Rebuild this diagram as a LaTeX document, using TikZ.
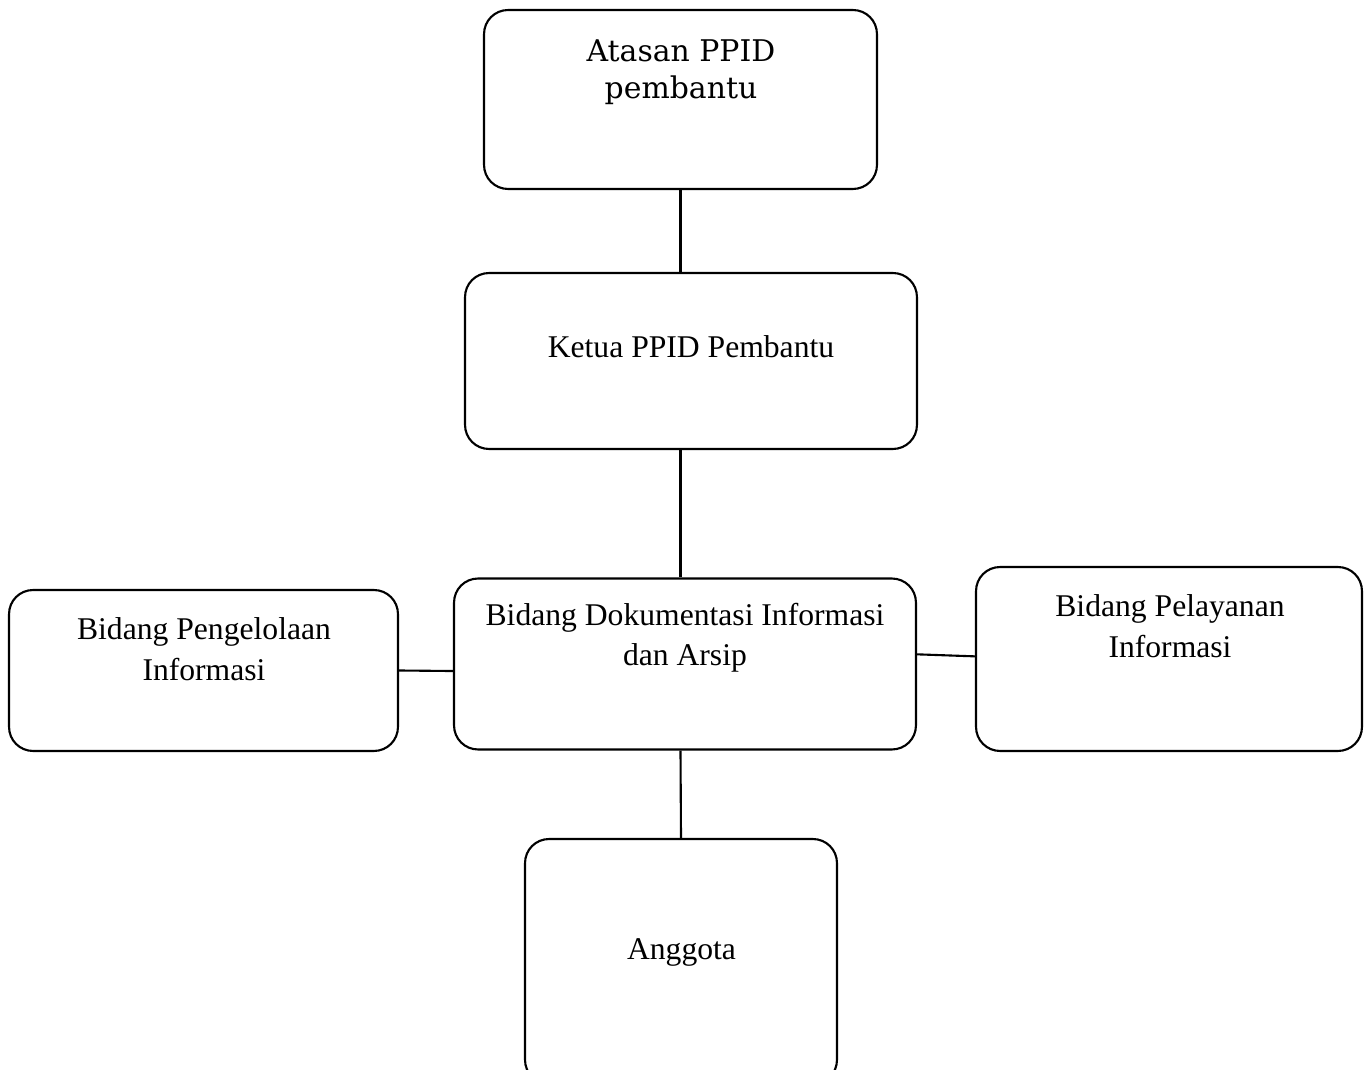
\documentclass[tikz,border=0pt]{standalone}
\usepackage{fontspec}
\setmainfont{Liberation Serif}
\newfontfamily\topfont{DejaVu Serif}
\tikzset{
  orgbox/.style={draw, line width=1.2pt, rounded corners=0.48cm, inner sep=0pt},
  orgtext/.style={align=center, inner sep=0pt, font=\fontsize{18}{23}\selectfont},
  link/.style={line width=1.2pt}
}
\begin{document}
\begin{tikzpicture}[x=0.02cm,y=-0.02cm]
\useasboundingbox (0,0) rectangle (1367,1070);
\node[orgbox, minimum width=7.86cm, minimum height=3.58cm] (atasan) at (680.5,99.5) {};
\node[orgbox, minimum width=9.04cm, minimum height=3.52cm] (ketua) at (691,361) {};
\node[orgbox, minimum width=9.24cm, minimum height=3.42cm] (dok) at (685,664) {};
\node[orgbox, minimum width=7.78cm, minimum height=3.22cm] (kiri) at (203.5,670.5) {};
\node[orgbox, minimum width=7.72cm, minimum height=3.68cm] (kanan) at (1169,659) {};
\node[orgbox, minimum width=6.24cm, minimum height=4.9cm] (anggota) at (681,961.5) {};
\node[orgtext, font=\topfont\fontsize{17}{21}\selectfont] (atasanT) at (681,72) {Atasan PPID\\pembantu};
\node[orgtext, anchor=base] (ketuaT) at (691,358) {Ketua PPID Pembantu};
\node[orgtext] (dokT) at (685,638) {Bidang Dokumentasi Informasi\\dan Arsip};
\node[orgtext] (kiriT) at (204,649) {Bidang Pengelolaan\\Informasi};
\node[orgtext] (kananT) at (1170,626) {Bidang Pelayanan\\Informasi};
\node[orgtext, anchor=base] (anggotaT) at (681.5,960) {Anggota};
\draw[link] (atasan.south) -- (atasan.south |- ketua.north);
\draw[link] (atasan.south |- ketua.south) -- (atasan.south |- dok.north);
\draw[link] (atasan.south |- dok.south) -- (anggota.north);
\draw[link] (kiri.east) -- ([yshift=-4pt]dok.west);
\draw[link] ([yshift=5.5pt]dok.east) -- ([yshift=1.5pt]kanan.west);
\end{tikzpicture}
\end{document}
